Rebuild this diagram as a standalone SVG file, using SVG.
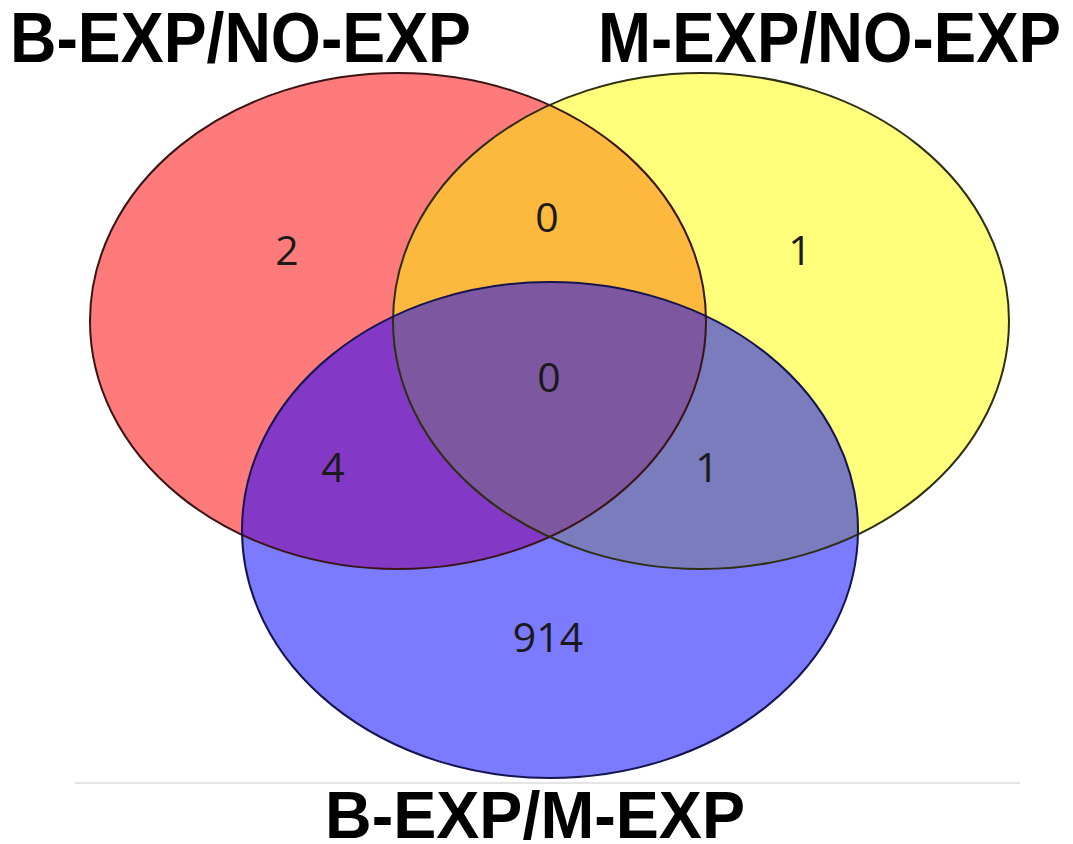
<svg xmlns="http://www.w3.org/2000/svg" width="1073" height="844" viewBox="0 0 1073 844">
  <style>
    .title { font-family: "Liberation Sans", Arial, sans-serif; font-weight: bold; fill: #000; }
    .num { font-family: "Open Sans", "DejaVu Sans", sans-serif; font-size: 41px; fill: #1a1a1a; text-anchor: middle; }
    .edge { fill: none; stroke-width: 2; }
  </style>
  <defs>
    <clipPath id="clipRed"><ellipse cx="398" cy="321" rx="308" ry="248"/></clipPath>
    <clipPath id="clipYellow"><ellipse cx="701" cy="321" rx="308" ry="248"/></clipPath>
  </defs>
  <rect width="1073" height="844" fill="#ffffff"/>

  <g id="set-red">
    <ellipse cx="398" cy="321" rx="308" ry="248" fill="#FF7B7B"/>
  </g>
  <g id="set-yellow">
    <ellipse cx="701" cy="321" rx="308" ry="248" fill="#FFFF7B"/>
  </g>
  <g id="set-blue">
    <ellipse cx="550" cy="530" rx="308" ry="248" fill="#7B7BFF"/>
  </g>

  <g id="overlaps">
    <ellipse cx="701" cy="321" rx="308" ry="248" fill="#FDB83E" clip-path="url(#clipRed)"/>
    <ellipse cx="550" cy="530" rx="308" ry="248" fill="#8339C6" clip-path="url(#clipRed)"/>
    <ellipse cx="550" cy="530" rx="308" ry="248" fill="#7B7CBE" clip-path="url(#clipYellow)"/>
    <g clip-path="url(#clipYellow)">
      <ellipse cx="550" cy="530" rx="308" ry="248" fill="#7D58A0" clip-path="url(#clipRed)"/>
    </g>
  </g>

  <g id="outlines">
    <ellipse class="edge" cx="398" cy="321" rx="308" ry="248" stroke="#3a1414"/>
    <ellipse class="edge" cx="701" cy="321" rx="308" ry="248" stroke="#2e2e12"/>
    <ellipse class="edge" cx="550" cy="530" rx="308" ry="248" stroke="#141450"/>
  </g>

  <g id="counts">
    <text class="num" x="287" y="265">2</text>
    <text class="num" x="547" y="232">0</text>
    <text class="num" x="800" y="265">1</text>
    <text class="num" x="549" y="392">0</text>
    <text class="num" x="333" y="482">4</text>
    <text class="num" x="707" y="482">1</text>
    <text class="num" x="548" y="652" fill="#121250">914</text>
  </g>

  <line id="baseline-rule" x1="75" y1="783" x2="1020" y2="783" stroke="#e4e4e4" stroke-width="2"/>

  <g id="labels">
    <text class="title" x="10" y="62" font-size="70" textLength="461" lengthAdjust="spacingAndGlyphs">B-EXP/NO-EXP</text>
    <text class="title" x="598" y="62" font-size="70" textLength="463" lengthAdjust="spacingAndGlyphs">M-EXP/NO-EXP</text>
    <text class="title" x="325" y="838" font-size="66" textLength="420" lengthAdjust="spacingAndGlyphs">B-EXP/M-EXP</text>
  </g>
</svg>
